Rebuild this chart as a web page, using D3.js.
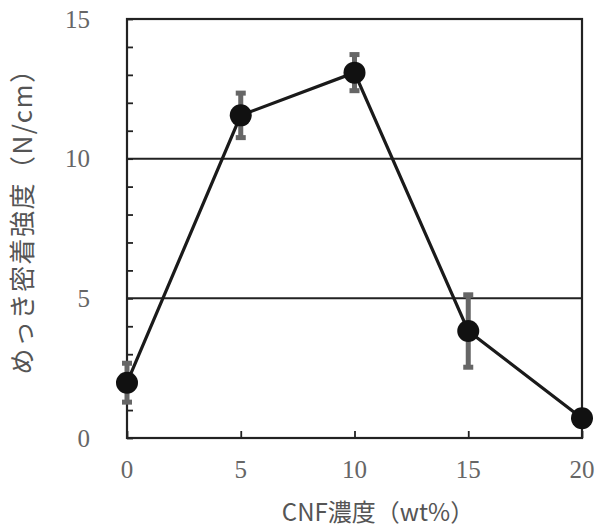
<!DOCTYPE html>
<html><head><meta charset="utf-8">
<script src="https://cdn.jsdelivr.net/npm/d3@7"></script>
<style>body{margin:0;background:#fff}svg{display:block}</style>
</head><body><svg id="c" width="598" height="529"></svg>
<script>
const concentrations = [0, 5, 10, 15, 20];
const strengths = [1.98, 11.55, 13.08, 3.83, 0.71];
const errors = [0.75, 0.85, 0.7, 1.35, 0];
const xTicks = [0, 5, 10, 15, 20];
const yTicks = [0, 5, 10, 15];
const yMinorTicks = d3.range(0, 16, 1);
const xLabel = "CNF濃度（wt%）";
const yLabel = "めっき密着強度（N/cm）";

const svg = d3.select("#c");
const m = {l:127, r:16, t:19, b:91};
const W = 598 - m.l - m.r, H = 529 - m.t - m.b;
const x = d3.scaleLinear().domain([0,20]).range([m.l, m.l+W]);
const y = d3.scaleLinear().domain([0,15]).range([m.t+H, m.t]);
const serif = "'Liberation Serif','DejaVu Serif',serif";
const cjk = "'Noto Sans CJK JP','Liberation Serif',sans-serif";

// gridlines at 5 and 10
svg.append("g").selectAll("line").data([5,10]).join("line")
  .attr("x1", m.l).attr("x2", m.l+W).attr("y1", d=>y(d)).attr("y2", d=>y(d))
  .attr("stroke", "#222").attr("stroke-width", 2);

// frame
svg.append("rect").attr("x", m.l).attr("y", m.t).attr("width", W).attr("height", H)
  .attr("fill", "none").attr("stroke", "#222").attr("stroke-width", 2.2);

// y axis (ticks inward)
const yAxis = svg.append("g").attr("transform", `translate(${m.l},0)`)
  .call(d3.axisRight(y).tickValues(yMinorTicks).tickSize(6).tickFormat(""));
yAxis.select(".domain").remove();
yAxis.selectAll("line").attr("stroke", "#222").attr("stroke-width", 1.8);

// x axis (ticks inward)
const xAxis = svg.append("g").attr("transform", `translate(0,${m.t+H})`)
  .call(d3.axisTop(x).tickValues(xTicks).tickSize(7).tickFormat(""));
xAxis.select(".domain").remove();
xAxis.selectAll("line").attr("stroke", "#222").attr("stroke-width", 1.8);

// tick labels
svg.append("g").selectAll("text").data(yTicks).join("text")
  .attr("x", 90).attr("y", d=>y(d)).attr("dy", "0.35em").attr("text-anchor", "end")
  .attr("font-family", serif).attr("font-size", 25).attr("fill", "#666").text(d=>d);
svg.append("g").selectAll("text").data(xTicks).join("text")
  .attr("x", d=>x(d)).attr("y", 478).attr("text-anchor", "middle")
  .attr("font-family", serif).attr("font-size", 25).attr("fill", "#666").text(d=>d);

// axis titles
svg.append("text").attr("x", 378).attr("y", 521).attr("text-anchor", "middle")
  .attr("font-family", cjk).attr("font-size", 24).attr("fill", "#555").text(xLabel);
svg.append("text").attr("transform", "translate(32,215) rotate(-90)").attr("text-anchor", "middle")
  .attr("font-family", cjk).attr("font-size", 26).attr("letter-spacing", 1.5)
  .attr("fill", "#555").text(yLabel);

const data = concentrations.map((c,i)=>({c, v:strengths[i], e:errors[i]}));

// error bars
const eb = svg.append("g").attr("fill", "#666");
data.filter(d=>d.e>0).forEach(d=>{
  const cx = x(d.c), y1 = y(d.v+d.e), y2 = y(d.v-d.e);
  eb.append("rect").attr("x", cx-2.5).attr("y", y1).attr("width", 5).attr("height", y2-y1);
  eb.append("rect").attr("x", cx-5).attr("y", y1-1).attr("width", 10).attr("height", 5);
  eb.append("rect").attr("x", cx-5).attr("y", y2-4).attr("width", 10).attr("height", 5);
});

// line
svg.append("path").datum(data)
  .attr("d", d3.line().x(d=>x(d.c)).y(d=>y(d.v)))
  .attr("fill", "none").attr("stroke", "#1a1a1a").attr("stroke-width", 3.2);

// markers
svg.append("g").selectAll("circle").data(data).join("circle")
  .attr("cx", d=>x(d.c)).attr("cy", d=>y(d.v)).attr("r", 11).attr("fill", "#111");
</script></body></html>
